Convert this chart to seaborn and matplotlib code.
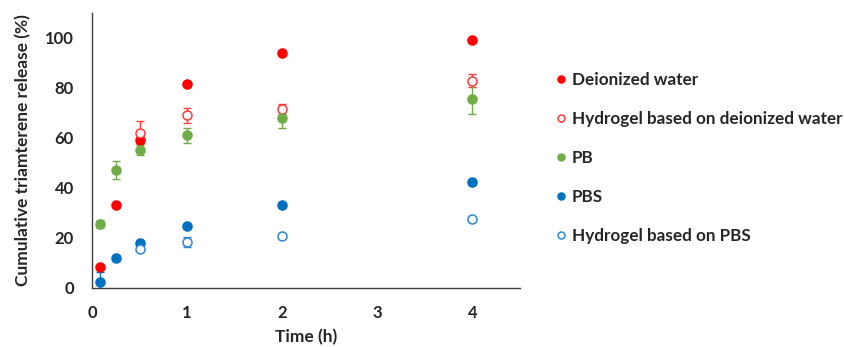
import matplotlib
matplotlib.use("Agg")
import matplotlib.pyplot as plt
import seaborn as sns
import pandas as pd
from matplotlib.lines import Line2D

sns.set_theme(style="white")
plt.rcParams['font.family'] = ['Lato', 'DejaVu Sans']

time_full = [0.083, 0.25, 0.5, 1, 2, 4]
time_gel = [0.5, 1, 2, 4]

di_water = [8.5, 33.3, 59.2, 81.7, 93.9, 99.2]
di_water_err = [0.5, 0.5, 1.0, 0.5, 0.5, 0.5]
gel_di = [62.2, 69.2, 71.8, 82.9]
gel_di_err = [4.6, 3.0, 2.0, 2.6]
pb = [25.6, 47.3, 55.4, 61.2, 68.2, 75.6]
pb_err = [1.5, 3.7, 2.0, 3.0, 4.3, 6.0]
pbs = [2.5, 12.2, 17.9, 24.7, 33.2, 42.4]
pbs_err = [4.0, 0.5, 0.5, 0.5, 0.5, 1.0]
gel_pbs = [15.8, 18.3, 21.0, 27.5]
gel_pbs_err = [0.8, 2.0, 0.5, 0.5]

labels = ["Deionized water", "Hydrogel based on deionized water", "PB", "PBS",
          "Hydrogel based on PBS"]

series = [
    (labels[0], time_full, di_water, di_water_err, "#FF0000", "#FF0000"),
    (labels[1], time_gel, gel_di, gel_di_err, "white", "#FF3B3B"),
    (labels[2], time_full, pb, pb_err, "#70AD47", "#70AD47"),
    (labels[3], time_full, pbs, pbs_err, "#0070C0", "#0070C0"),
    (labels[4], time_gel, gel_pbs, gel_pbs_err, "white", "#2E86D6"),
]

fig = plt.figure(figsize=(8.45, 3.47), dpi=100)
ax = fig.add_axes([92/845, 1-288/347, (520-92)/845, (288-13)/347])

handles = []
for name, t, v, e, fc, ec in series:
    df = pd.DataFrame({"t": t, "v": v})
    ax.errorbar(t, v, yerr=e, fmt="none", ecolor=ec, elinewidth=1.0,
                capsize=3, capthick=1.0, zorder=2)
    sns.scatterplot(data=df, x="t", y="v", ax=ax, s=42, color=fc,
                    edgecolor=ec, linewidth=1.1, zorder=3, legend=False)
    handles.append(Line2D([], [], linestyle="none", marker="o", markersize=5,
                          markerfacecolor=fc, markeredgecolor=ec,
                          markeredgewidth=1.1, label=name))

ax.set_xlim(0, 4.5)
ax.set_ylim(0, 110)
ax.set_xticks([0, 1, 2, 3, 4])
ax.set_yticks([0, 20, 40, 60, 80, 100])
for s in ["top", "right"]:
    ax.spines[s].set_visible(False)
for s in ["left", "bottom"]:
    ax.spines[s].set_color("#404040")
    ax.spines[s].set_linewidth(1.0)
ax.tick_params(axis="x", direction="out", length=4, width=1, color="#404040",
               labelsize=12, pad=8)
ax.tick_params(axis="y", direction="out", length=4, width=1, color="#404040",
               labelsize=12, pad=9)
for lab in ax.get_xticklabels() + ax.get_yticklabels():
    lab.set_fontweight("bold")
ax.set_xlabel("Time (h)", fontsize=12.5, fontweight="bold", labelpad=6)
ax.set_ylabel("Cumulative triamterene release (%)", fontsize=12.5,
              fontweight="bold", labelpad=10)

leg = fig.legend(handles=handles, loc="upper left",
                 bbox_to_anchor=(541/845, 1-57/347), frameon=False,
                 handlelength=0.6, handletextpad=0.3, labelspacing=1.34,
                 prop={"size": 12.3, "weight": "bold"})

fig.savefig("out.png", dpi=100)
